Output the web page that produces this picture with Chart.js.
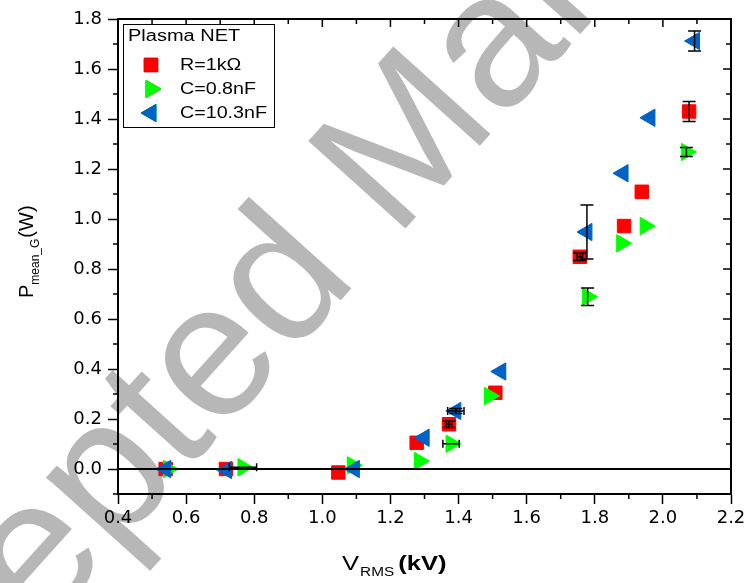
<!DOCTYPE html>
<html>
<head>
<meta charset="utf-8">
<script src="https://cdn.jsdelivr.net/npm/chart.js@4.4.1/dist/chart.umd.min.js"></script>
<style>
  html, body { margin: 0; padding: 0; background: #fff; }
  #wrap { width: 745px; height: 583px; }
</style>
</head>
<body>
<div id="wrap"><canvas id="chart" width="745" height="583"></canvas></div>
<script>
/* ===============================
   Data
================================ */
const xTicks = [0.4, 0.6, 0.8, 1.0, 1.2, 1.4, 1.6, 1.8, 2.0, 2.2];
const yTicks = [0.0, 0.2, 0.4, 0.6, 0.8, 1.0, 1.2, 1.4, 1.6, 1.8];

const seriesNames = ["R=1k\u03A9", "C=0.8nF", "C=10.3nF"];

// R = 1 kOhm
const rV    = [0.540, 0.717, 1.047, 1.277, 1.372, 1.508, 1.756, 1.886, 1.938, 2.077];
const rP    = [0.000, 0.000, -0.014, 0.105, 0.179, 0.305, 0.849, 0.972, 1.109, 1.430];
const rPErr = [0, 0, 0, 0, 0.013, 0, 0.015, 0, 0, 0.040];
const rVErr = [0, 0, 0, 0, 0.008, 0, 0.008, 0, 0, 0];

// C = 0.8 nF
const gV    = [0.548, 0.767, 1.088, 1.285, 1.378, 1.491, 1.779, 1.879, 1.948, 2.069];
const gP    = [0.000, 0.007, 0.015, 0.032, 0.101, 0.292, 0.689, 0.903, 0.972, 1.268];
const gPErr = [0, 0, 0, 0, 0, 0, 0.035, 0, 0, 0.018];
const gVErr = [0, 0.040, 0, 0, 0.024, 0, 0, 0, 0, 0];

// C = 10.3 nF
const bV    = [0.540, 0.719, 1.094, 1.299, 1.392, 1.524, 1.777, 1.883, 1.962, 2.093];
const bP    = [0.000, -0.004, 0.000, 0.125, 0.232, 0.390, 0.948, 1.183, 1.405, 1.712];
const bPErr = [0, 0, 0, 0, 0.010, 0, 0.108, 0, 0, 0.040];
const bVErr = [0, 0, 0, 0, 0.024, 0, 0, 0, 0, 0];

/* ===============================
   Look
================================ */
const RED = "#ff0000";
const GREEN = "#00ff00";
const BLUE = "#0062c6";
const TICK_FONT = { family: "'DejaVu Sans', sans-serif", size: 18 };
const PLOT = { left: 118, right: 731, top: 19, bottom: 494 };

function points(xs, ys, xe, ye) {
  return xs.map((x, i) => ({ x: x, y: ys[i], xErr: xe[i], yErr: ye[i] }));
}

// draw text stretched along its own direction
function stretchText(ctx, text, x, y, sx) {
  ctx.save();
  ctx.translate(x, y);
  ctx.scale(sx, 1);
  ctx.fillText(text, 0, 0);
  ctx.restore();
  return ctx.measureText(text).width * sx;
}

/* ===============================
   Plugins
================================ */
const background = {
  id: "background",
  beforeDraw(chart) {
    const ctx = chart.ctx;
    ctx.save();
    ctx.fillStyle = "#fff";
    ctx.fillRect(0, 0, chart.width, chart.height);

    // grey "Accepted Manuscript" watermark
    ctx.translate(395, 240);
    ctx.rotate(-48 * Math.PI / 180);
    ctx.font = "190px 'Liberation Sans'";
    ctx.fillStyle = "rgb(183,183,183)";
    ctx.textBaseline = "alphabetic";
    ctx.textAlign = "right";
    ctx.fillText("Accepted ", 0, 0);
    ctx.textAlign = "left";
    ctx.fillText("Manuscript", 0, 0);
    ctx.restore();
  }
};

const zeroAndErrors = {
  id: "zeroAndErrors",
  afterDatasetsDraw(chart) {
    const ctx = chart.ctx;
    const xs = chart.scales.x, ys = chart.scales.y;
    const a = chart.chartArea;
    ctx.save();

    // zero line
    const y0 = ys.getPixelForValue(0);
    ctx.strokeStyle = "#000";
    ctx.lineWidth = 2;
    ctx.beginPath();
    ctx.moveTo(a.left, y0);
    ctx.lineTo(a.right, y0);
    ctx.stroke();

    // error bars
    ctx.lineWidth = 1.5;
    const cap = 6.5;
    chart.data.datasets.forEach(ds => {
      ds.data.forEach(p => {
        const px = xs.getPixelForValue(p.x);
        const py = ys.getPixelForValue(p.y);
        ctx.beginPath();
        if (p.yErr) {
          const t = ys.getPixelForValue(p.y + p.yErr);
          const b = ys.getPixelForValue(p.y - p.yErr);
          ctx.moveTo(px, t); ctx.lineTo(px, b);
          ctx.moveTo(px - cap, t); ctx.lineTo(px + cap, t);
          ctx.moveTo(px - cap, b); ctx.lineTo(px + cap, b);
        }
        if (p.xErr) {
          const l = xs.getPixelForValue(p.x - p.xErr);
          const r = xs.getPixelForValue(p.x + p.xErr);
          ctx.moveTo(l, py); ctx.lineTo(r, py);
          ctx.moveTo(l, py - 4); ctx.lineTo(l, py + 4);
          ctx.moveTo(r, py - 4); ctx.lineTo(r, py + 4);
        }
        ctx.stroke();
      });
    });
    ctx.restore();
  }
};

const frame = {
  id: "frame",
  afterDraw(chart) {
    const ctx = chart.ctx;
    const xs = chart.scales.x, ys = chart.scales.y;
    const a = chart.chartArea;
    ctx.save();
    ctx.strokeStyle = "#000";
    ctx.lineWidth = 2;
    ctx.beginPath();
    ctx.moveTo(a.left, a.top); ctx.lineTo(a.right, a.top); ctx.lineTo(a.right, a.bottom);
    ctx.stroke();

    ctx.lineWidth = 1.5;
    ctx.beginPath();
    // x: minor ticks outside bottom, all ticks inside top
    for (let i = 0; i < xTicks.length; i++) {
      const v = xTicks[i];
      const px = xs.getPixelForValue(v);
      if (i > 0 && i < xTicks.length - 1) { ctx.moveTo(px, a.top); ctx.lineTo(px, a.top + 8); }
      if (i < xTicks.length - 1) {
        const m = xs.getPixelForValue(v + 0.1);
        ctx.moveTo(m, a.bottom); ctx.lineTo(m, a.bottom + 5);
        ctx.moveTo(m, a.top); ctx.lineTo(m, a.top + 5);
      }
    }
    // y: minor ticks outside left, all ticks inside right
    const yMinor = [-0.1].concat(yTicks.slice(0, -1).map(v => v + 0.1));
    yMinor.forEach(v => {
      const py = ys.getPixelForValue(v);
      ctx.moveTo(a.left, py); ctx.lineTo(a.left - 5, py);
      ctx.moveTo(a.right, py); ctx.lineTo(a.right - 5, py);
    });
    yTicks.forEach(v => {
      const py = ys.getPixelForValue(v);
      ctx.moveTo(a.right, py); ctx.lineTo(a.right - 8, py);
    });
    ctx.stroke();

    // legend box
    ctx.fillStyle = "#fff";
    ctx.fillRect(123, 24, 152, 104);
    ctx.lineWidth = 1;
    ctx.strokeRect(123.5, 24.5, 151, 103);
    ctx.fillStyle = "#000";
    ctx.font = "16px 'Liberation Sans'";
    ctx.textBaseline = "middle";
    ctx.textAlign = "left";
    stretchText(ctx, "Plasma NET", 128, 37, 1.25);
    const rowsY = [65, 89, 113];
    chart.data.datasets.forEach((ds, i) => {
      Chart.helpers.drawPoint(ctx, {
        pointStyle: ds.pointStyle,
        rotation: ds.rotation,
        radius: ds.pointRadius,
        borderWidth: 1
      }, 151, rowsY[i]);
      ctx.fillStyle = ds.backgroundColor;
      ctx.strokeStyle = ds.borderColor;
      ctx.fill();
      ctx.stroke();
      ctx.fillStyle = "#000";
      stretchText(ctx, ds.label, 180, rowsY[i] + 1, 1.23);
    });

    // axis titles
    ctx.fillStyle = "#000";
    ctx.textBaseline = "alphabetic";
    ctx.textAlign = "left";
    // x title: V_RMS (kV)
    let x = 342;
    ctx.font = "20px 'Liberation Sans'";
    x += stretchText(ctx, "V", x, 570, 1.28);
    ctx.font = "12px 'Liberation Sans'";
    x += stretchText(ctx, "RMS", x + 1, 576, 1.28) + 5;
    ctx.font = "bold 20px 'Liberation Sans'";
    stretchText(ctx, "(kV)", x, 570, 1.28);

    // y title: P_mean_G (W)
    ctx.save();
    ctx.translate(33, 298);
    ctx.rotate(-Math.PI / 2);
    let t = 0;
    ctx.font = "20px 'Liberation Sans'";
    ctx.fillText("P", t, 0); t += ctx.measureText("P").width;
    ctx.font = "12px 'Liberation Sans'";
    ctx.fillText("mean_G", t, 6); t += ctx.measureText("mean_G").width + 1;
    ctx.font = "20px 'Liberation Sans'";
    ctx.fillText("(W)", t, 0);
    ctx.restore();

    ctx.restore();
  }
};

/* ===============================
   Chart
================================ */
function dataset(label, xs, ys, xe, ye, color, style, rot, order) {
  return {
    label: label,
    data: points(xs, ys, xe, ye),
    pointStyle: style,
    rotation: rot,
    pointRadius: style === "rect" ? 9.5 : 10,
    backgroundColor: color,
    borderColor: color,
    borderWidth: 1,
    showLine: false,
    order: order
  };
}

new Chart(document.getElementById("chart"), {
  type: "scatter",
  data: {
    datasets: [
      dataset(seriesNames[0], rV, rP, rVErr, rPErr, RED, "rect", 0, 3),
      dataset(seriesNames[1], gV, gP, gVErr, gPErr, GREEN, "triangle", 90, 2),
      dataset(seriesNames[2], bV, bP, bVErr, bPErr, BLUE, "triangle", -90, 1)
    ]
  },
  options: {
    responsive: false,
    animation: false,
    layout: { padding: { left: 0, top: PLOT.top, right: 745 - PLOT.right, bottom: 0 } },
    plugins: {
      legend: { display: false },
      tooltip: { enabled: false }
    },
    scales: {
      x: {
        type: "linear",
        min: xTicks[0],
        max: xTicks[xTicks.length - 1],
        afterBuildTicks: s => { s.ticks = xTicks.map(v => ({ value: v })); },
        afterFit: s => { s.height = 583 - PLOT.bottom; s.paddingLeft = 0; s.paddingRight = 0; },
        ticks: {
          callback: v => v.toFixed(1),
          font: TICK_FONT,
          color: "#000",
          padding: 4,
          maxRotation: 0
        },
        grid: { drawOnChartArea: false, tickLength: 10, tickColor: "#000", tickWidth: 1.5 },
        border: { color: "#000", width: 2 }
      },
      y: {
        type: "linear",
        min: -0.1,
        max: 1.8,
        afterBuildTicks: s => { s.ticks = yTicks.map(v => ({ value: v })); },
        afterFit: s => { s.width = PLOT.left; s.paddingTop = 0; s.paddingBottom = 0; },
        ticks: {
          callback: v => v.toFixed(1),
          font: TICK_FONT,
          color: "#000",
          padding: 6
        },
        grid: { drawOnChartArea: false, tickLength: 10, tickColor: "#000", tickWidth: 1.5 },
        border: { color: "#000", width: 2 }
      }
    }
  },
  plugins: [background, zeroAndErrors, frame]
});
</script>
</body>
</html>
